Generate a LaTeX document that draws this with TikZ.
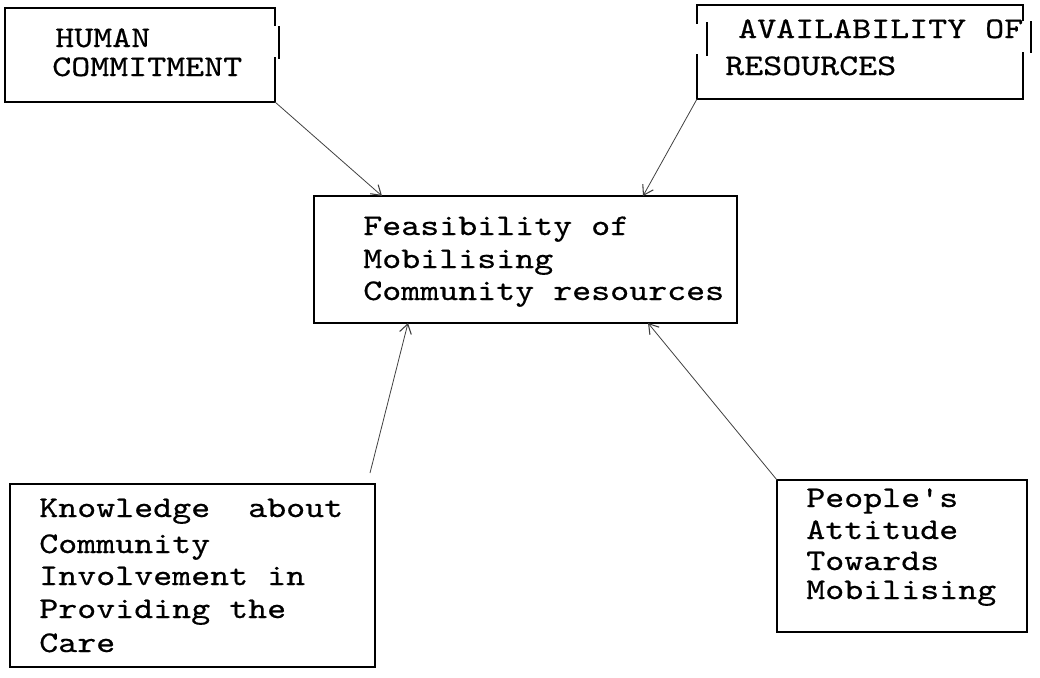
\documentclass[tikz,border=0pt]{standalone}
\usepackage{fontspec}
\newfontfamily\twfont{lmmono10-regular.otf}[FakeStretch=1.206,FakeBold=0.5]
\usetikzlibrary{arrows.meta,calc}
\begin{document}
\begin{tikzpicture}[x=0.75pt,y=-0.75pt,
  edge/.style={line width=1.5pt,line cap=rect},
  boxnode/.style={rectangle,inner sep=0pt,outer sep=0pt},
  framed/.style={boxnode,draw,line width=1.5pt},
  txt/.style={anchor=base west,inner sep=0pt,font=\twfont\fontsize{22.5pt}{24pt}\selectfont},
  link/.style={line width=0.6pt,draw=black!75,-{Straight Barb[length=7pt,width=9pt,line width=0.8pt]}}]
\useasboundingbox (0,0) rectangle (1040,678);
% boxes
\node[boxnode,minimum width=202.5pt,minimum height=70.5pt] (hum) at (140,55) {};
\node[boxnode,minimum width=244.5pt,minimum height=70.5pt] (avail) at (860,52) {};
\node[framed,minimum width=317.25pt,minimum height=95.25pt] (feas) at (525.5,259) {};
\node[framed,minimum width=273.75pt,minimum height=137.25pt] (know) at (192.5,575.5) {};
\node[framed,minimum width=187.5pt,minimum height=114pt] (peop) at (902,556) {};
% human outline with typed bar
\draw[edge] (hum.south east) -- (hum.south west) -- (hum.north west) -- (hum.north east) -- ++(0,17);
\draw[edge] (hum.south east) -- ++(0,-44);
\draw[edge] ($(hum.north east)+(4,19)$) -- ++(0,31);
% availability outline with typed bars
\draw[edge] ($(avail.north west)+(0,18)$) -- (avail.north west) -- (avail.north east) -- ++(0,15);
\draw[edge] ($(avail.south west)+(0,-44)$) -- (avail.south west) -- (avail.south east) -- ++(0,-46);
\draw[edge] ($(avail.north west)+(10,18)$) -- ++(0,32);
\draw[edge] ($(avail.north east)+(8,17)$) -- ++(0,30);
% texts
\node[txt] (h1) at (55,47) {HUMAN};
\node[txt] (h2) at (52,76) {COMMITMENT};
\node[txt] (a1) at (738,38) {AVAILABILITY OF};
\node[txt] (a2) at (725,75) {RESOURCES};
\node[txt] (f1) at (363,235) {Feasibility of};
\node[txt] (f2) at (363,268) {Mobilising};
\node[txt] (f3) at (363,300) {Community resources};
\node[txt] (k1) at (39,517) {Knowledge\ \ about};
\node[txt] (k2) at (39,553) {Community};
\node[txt] (k3) at (39,585) {Involvement in};
\node[txt] (k4) at (39,618) {Providing the};
\node[txt] (k5) at (39,652) {Care};
\node[txt] (p1) at (806,507) {People's};
\node[txt] (p2) at (806,539) {Attitude};
\node[txt] (p3) at (806,570) {Towards};
\node[txt] (p4) at (806,599) {Mobilising};
% connectors
\coordinate (t1) at (382,196);
\coordinate (t2) at (643,196);
\coordinate (s3) at (370,473);
\coordinate (t3) at (408,323);
\coordinate (t4) at (648,323);
\draw[link] (hum.south east) -- (t1);
\draw[link] (avail.south west) -- (t2);
\draw[link] (s3) -- (t3);
\draw[link] (peop.north west) -- (t4);
\end{tikzpicture}
\end{document}
